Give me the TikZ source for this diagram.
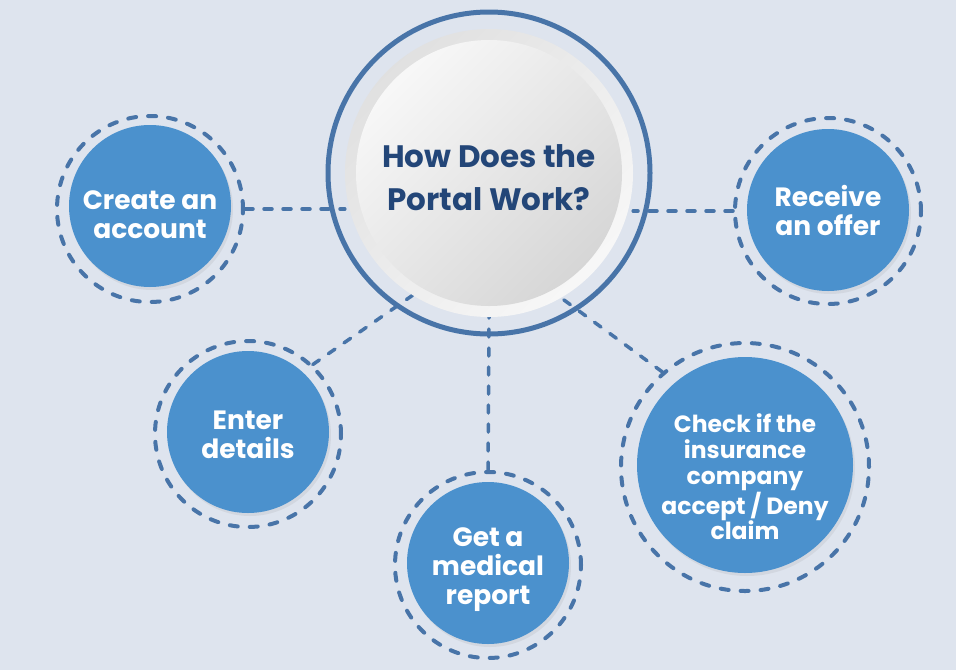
\documentclass[tikz,border=0pt]{standalone}
\usepackage{fontspec}
\setmainfont{Poppins}
\usetikzlibrary{positioning}
\usetikzlibrary{shadows}
\usetikzlibrary{backgrounds}
\definecolor{pageBg}{RGB}{222,228,238}
\definecolor{stepBlue}{RGB}{75,145,205}
\definecolor{dashBlue}{RGB}{72,116,168}
\definecolor{titleBlue}{RGB}{35,70,120}
\tikzset{stepCircle/.style={circle, fill=stepBlue, minimum size=162pt, inner sep=0pt, drop shadow={shadow xshift=2pt, shadow yshift=-3pt, opacity=0.12}}}
\tikzset{stepText/.style={text=white, align=center, inner sep=0pt, font=\bfseries\fontsize{26.5}{29}\selectfont}}
\tikzset{stepRing/.style={circle, draw=dashBlue, line width=4pt, dash pattern=on 8pt off 12pt, line cap=round, minimum size=186pt, inner sep=0pt}}
\tikzset{linkLine/.style={draw=dashBlue, line width=3.5pt, dash pattern=on 8pt off 11pt, line cap=round}}
\tikzset{portalRing/.style={circle, draw=dashBlue, line width=5pt, minimum size=322pt, inner sep=0pt}}
\tikzset{portalRim/.style={circle, minimum size=288pt, inner sep=0pt, top color=black!12!white, bottom color=black!3!white, shading angle=45}}
\tikzset{portalCore/.style={circle, minimum size=266pt, inner sep=0pt, top color=black!3!white, bottom color=black!16!white, shading angle=45}}
\tikzset{portalText/.style={text=titleBlue, align=center, inner sep=0pt, font=\bfseries\fontsize{31}{43}\selectfont}}

\begin{document}
\begin{tikzpicture}[x=1pt, y=-1pt]
\useasboundingbox (0,0) rectangle (956,670);

\node[portalRing] (portal) at (489, 173) {};
\node[portalRim] (portalrim) at (489, 173) {};
\node[portalCore] (core) at (489, 173) {};
\node[portalText] (title) at (489, 178) {How Does the\\Portal Work?};

\node[stepRing] (createring) at (150, 209) {};
\node[stepCircle] (create) at (150, 206) {};
\node[stepText] (createtext) at (150, 215) {Create an\\account};

\node[stepRing] (receivering) at (828, 211) {};
\node[stepCircle] (receive) at (828, 210) {};
\node[stepText] (receivetext) at (828, 210) {Receive\\an offer};

\node[stepRing] (enterring) at (248, 434) {};
\node[stepCircle] (enter) at (248, 432) {};
\node[stepText] (entertext) at (248, 435) {Enter\\details};

\node[stepRing] (medicalring) at (488, 565) {};
\node[stepCircle] (medical) at (488, 563) {};
\node[stepText] (medicaltext) at (488, 570) {Get a\\medical\\report};

\node[stepRing, minimum size=248pt] (checkring) at (745, 467) {};
\node[stepCircle, minimum size=216pt] (check) at (745, 465) {};
\node[stepText, font=\bfseries\fontsize{23.5}{25.8}\selectfont] (checktext) at (745, 477) {Check if the\\insurance\\company\\accept / Deny\\claim};

\begin{pgfonlayer}{background}
\fill[pageBg] (0,0) rectangle (956,670);
\draw[linkLine] (createring.east) -- (createring.east -| portalrim.west);
\draw[linkLine] (receivering.west) -- (receivering.west -| portalrim.east);
\draw[linkLine] (enterring.47) -- (portalrim.238);
\draw[linkLine] (medicalring.north) -- (portalrim.south);
\draw[linkLine] (checkring.131) -- (portalrim.300);
\end{pgfonlayer}
\end{tikzpicture}
\end{document}
